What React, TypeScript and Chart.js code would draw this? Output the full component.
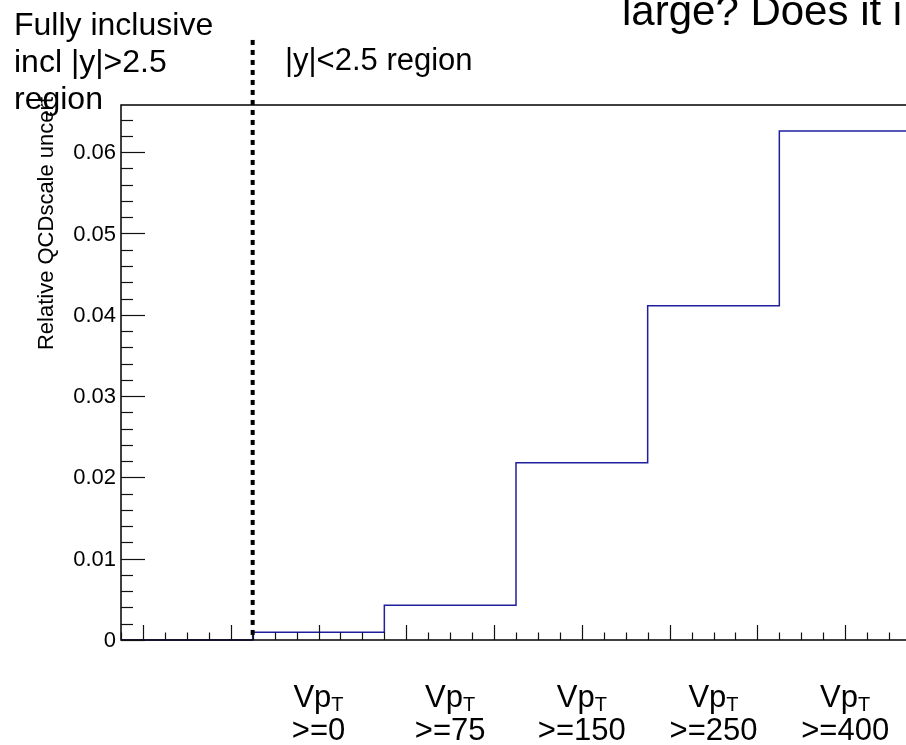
import React, { useEffect, useRef } from "react";
import { Chart, registerables } from "chart.js";

Chart.register(...registerables);

// ---- data ----
const binEdges = [0, 1, 2, 3, 4, 5, 6];
const binValues = [0, 0.00095, 0.00428, 0.0218, 0.0411, 0.0626];
const binVar = ["", "Vp", "Vp", "Vp", "Vp", "Vp"];
const binSub = ["", "T", "T", "T", "T", "T"];
const binCut = ["", ">=0", ">=75", ">=150", ">=250", ">=400"];
const yMajorTicks = [0, 0.01, 0.02, 0.03, 0.04, 0.05, 0.06];
const yTickLabels = ["0", "0.01", "0.02", "0.03", "0.04", "0.05", "0.06"];
const yMinorPerMajor = 5;
const yMax = 0.0658;
const xMin = 0;
const xMax = 6;
const xTicksPerBin = 6;
const xMinorPerMajor = 4;
const xFirstMajor = 1;
const boundaryX = [1, 1];
const boundaryY = [0.0738, 0];
const leftNote = ["Fully inclusive", "incl |y|>2.5", "region"];
const rightNote = "|y|<2.5 region";
const yTitle = "Relative QCDscale uncert";
const topTitle = "large? Does it i";

const FONT = '"Liberation Sans", Arial, Helvetica, sans-serif';

const decor = {
  id: "decor",
  afterDatasetsDraw(chart: any) {
    const { ctx, chartArea: a, scales } = chart;
    const x = scales.x;
    const y = scales.y;
    ctx.save();
    // frame
    ctx.strokeStyle = "#000";
    ctx.lineWidth = 1.5;
    ctx.beginPath();
    ctx.moveTo(a.left, a.bottom);
    ctx.lineTo(a.left, a.top);
    ctx.lineTo(a.right, a.top);
    ctx.lineTo(a.right, a.bottom);
    ctx.closePath();
    ctx.stroke();

    // y ticks
    ctx.lineWidth = 1.2;
    ctx.strokeStyle = "#111";
    const minorStep = (yMajorTicks[1] - yMajorTicks[0]) / yMinorPerMajor;
    for (let k = 0; k * minorStep <= yMax + 1e-12; k++) {
      const py = Math.round(y.getPixelForValue(k * minorStep)) + 0.5;
      const len = k % yMinorPerMajor === 0 ? 24 : 12;
      ctx.beginPath();
      ctx.moveTo(a.left, py);
      ctx.lineTo(a.left + len, py);
      ctx.stroke();
    }
    // x ticks
    const xStep = (binEdges[1] - binEdges[0]) / xTicksPerBin;
    for (let k = 0; k * xStep <= xMax + 1e-9; k++) {
      const px = Math.round(x.getPixelForValue(xMin + k * xStep)) + 0.5;
      const major = (k - xFirstMajor) % xMinorPerMajor === 0;
      const len = major ? 15 : 7.5;
      ctx.beginPath();
      ctx.moveTo(px, a.bottom);
      ctx.lineTo(px, a.bottom - len);
      ctx.stroke();
    }

    // y tick labels
    ctx.fillStyle = "#000";
    ctx.font = `22px ${FONT}`;
    ctx.textAlign = "right";
    ctx.textBaseline = "middle";
    yMajorTicks.forEach((v, i) => {
      ctx.fillText(yTickLabels[i], a.left - 5, y.getPixelForValue(v) + 1);
    });

    // bin labels
    ctx.textBaseline = "alphabetic";
    for (let i = 0; i < binCut.length; i++) {
      if (!binCut[i]) continue;
      const cx = x.getPixelForValue((binEdges[i] + binEdges[i + 1]) / 2);
      ctx.font = `31px ${FONT}`;
      const w1 = ctx.measureText(binVar[i]).width;
      ctx.font = `20px ${FONT}`;
      const w2 = ctx.measureText(binSub[i]).width;
      const sx = cx - (w1 + w2) / 2;
      ctx.textAlign = "left";
      ctx.font = `31px ${FONT}`;
      ctx.fillText(binVar[i], sx, 707);
      ctx.font = `20px ${FONT}`;
      ctx.fillText(binSub[i], sx + w1, 711);
      ctx.font = `31px ${FONT}`;
      ctx.textAlign = "center";
      ctx.fillText(binCut[i], cx, 740);
    }

    // notes
    ctx.textAlign = "left";
    ctx.font = `32px ${FONT}`;
    const noteBase = [35, 72, 109];
    leftNote.forEach((t, i) => ctx.fillText(t, 14, noteBase[i]));
    ctx.font = `31px ${FONT}`;
    ctx.fillText(rightNote, 285, 70);
    ctx.font = `42px ${FONT}`;
    ctx.fillText(topTitle, 622, 25);

    // y title
    ctx.save();
    ctx.translate(53, 97);
    ctx.rotate(-Math.PI / 2);
    ctx.font = `22px ${FONT}`;
    ctx.textAlign = "right";
    ctx.textBaseline = "alphabetic";
    ctx.fillText(yTitle, 0, 0);
    ctx.restore();

    ctx.restore();
  },
};

export default function App() {
  const ref = useRef<HTMLCanvasElement | null>(null);
  useEffect(() => {
    if (!ref.current) return;
    const histPoints = binEdges.map((e, i) => ({
      x: e,
      y: binValues[Math.min(i, binValues.length - 1)],
    }));
    const boundary = boundaryX.map((bx, i) => ({ x: bx, y: boundaryY[i] }));
    const chart = new Chart(ref.current, {
      type: "line",
      data: {
        datasets: [
          {
            data: boundary,
            borderColor: "#000",
            borderWidth: 4,
            borderDash: [5, 5],
            borderCapStyle: "butt",
            pointRadius: 0,
            clip: false as any,
            tension: 0,
          },
          {
            data: histPoints,
            borderColor: "#1f1f9e",
            borderWidth: 1.5,
            pointRadius: 0,
            stepped: "before",
            fill: false,
            clip: false as any,
          },
        ],
      },
      options: {
        responsive: false,
        devicePixelRatio: 1,
        animation: false,
        events: [],
        layout: { padding: { left: 121, top: 105, right: 1, bottom: 105 } },
        plugins: { legend: { display: false }, tooltip: { enabled: false } },
        scales: {
          x: { type: "linear", min: xMin, max: xMax, display: false },
          y: { type: "linear", min: 0, max: yMax, display: false },
        },
      },
      plugins: [decor],
    });
    return () => chart.destroy();
  }, []);
  return (
    <div
      style={{
        position: "fixed",
        left: 0,
        top: 0,
        width: 906,
        height: 745,
        overflow: "hidden",
        background: "#fff",
      }}
    >
      <canvas ref={ref} width={912} height={745} style={{ display: "block" }} />
    </div>
  );
}
